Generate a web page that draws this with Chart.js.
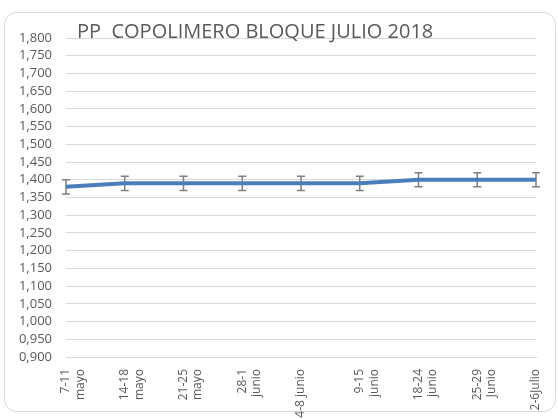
<!DOCTYPE html>
<html>
<head>
<meta charset="utf-8">
<script src="https://cdn.jsdelivr.net/npm/chart.js@4/dist/chart.umd.min.js"></script>
<style>
  html, body { margin: 0; padding: 0; background: #fff; }
  #wrap { width: 558px; height: 419px; position: relative; }
</style>
</head>
<body>
<div id="wrap"><canvas id="chart"></canvas></div>
<script>
// ---------- Datos ----------
const semanas = [
  ['7-11', 'mayo'], ['14-18', 'mayo'], ['21-25', 'mayo'], ['28-1', 'junio'],
  '4-8 junio', ['9-15', 'junio'], ['18-24', 'junio'], ['25-29', 'Junio'], '2-6Julio'
];
const valores = [1.38, 1.39, 1.39, 1.39, 1.39, 1.39, 1.40, 1.40, 1.40];
const errores = [0.02, 0.02, 0.02, 0.02, 0.02, 0.02, 0.02, 0.02, 0.02];
const titulo = 'PP  COPOLIMERO BLOQUE JULIO 2018';

const gris = '#595959';
const fuente = "'Open Sans', sans-serif";

// ---------- Marco redondeado + título ----------
const marco = {
  id: 'marco',
  beforeDraw: chart => {
    const ctx = chart.ctx;
    ctx.save();
    ctx.strokeStyle = '#d9d9d9';
    ctx.lineWidth = 1;
    ctx.beginPath();
    ctx.roundRect(4.5, 12.5, 551, 399, 12);
    ctx.stroke();
    ctx.restore();
  },
  afterDraw: chart => {
    const ctx = chart.ctx;
    ctx.save();
    ctx.fillStyle = gris;
    ctx.font = "20px 'Open Sans', sans-serif";
    ctx.textBaseline = 'alphabetic';
    ctx.textAlign = 'left';
    ctx.fillText(titulo, 77, 38);
    ctx.restore();
  }
};

// ---------- Barras de error ----------
const barrasError = {
  id: 'barrasError',
  beforeDatasetsDraw: chart => {
    const ctx = chart.ctx, x = chart.scales.x, y = chart.scales.y;
    ctx.save();
    ctx.strokeStyle = '#7f7f7f';
    ctx.lineWidth = 1.5;
    valores.forEach((v, i) => {
      const px = x.getPixelForValue(i);
      const top = y.getPixelForValue(v + errores[i]);
      const bot = y.getPixelForValue(v - errores[i]);
      ctx.beginPath();
      ctx.moveTo(px, top); ctx.lineTo(px, bot);
      ctx.moveTo(px - 4, top); ctx.lineTo(px + 4, top);
      ctx.moveTo(px - 4, bot); ctx.lineTo(px + 4, bot);
      ctx.stroke();
    });
    ctx.restore();
  }
};

new Chart(document.getElementById('chart'), {
  type: 'line',
  data: {
    labels: semanas,
    datasets: [{
      data: valores,
      borderColor: '#4a7ebb',
      borderWidth: 4,
      pointRadius: 0,
      tension: 0,
      fill: false
    }]
  },
  options: {
    responsive: true,
    maintainAspectRatio: false,
    animation: false,
    layout: { padding: { top: 38, right: 22, bottom: 0, left: 0 } },
    plugins: { legend: { display: false }, tooltip: { enabled: false } },
    scales: {
      x: {
        offset: false,
        grid: { display: false },
        border: { display: true, color: '#d9d9d9', width: 1 },
        ticks: {
          color: gris, font: { family: fuente, size: 12 },
          minRotation: 90, maxRotation: 90, autoSkip: false, padding: 4
        },
        afterFit: s => { s.height = 62; }
      },
      y: {
        min: 0.9, max: 1.8,
        grid: { color: '#d9d9d9', drawTicks: false },
        border: { display: false },
        ticks: {
          stepSize: 0.05, color: gris, padding: 14, autoSkip: false,
          font: { family: fuente, size: 13 },
          callback: v => v.toFixed(3).replace('.', ',')
        },
        afterFit: s => { s.width = 66; }
      }
    }
  },
  plugins: [marco, barrasError]
});
</script>
</body>
</html>
